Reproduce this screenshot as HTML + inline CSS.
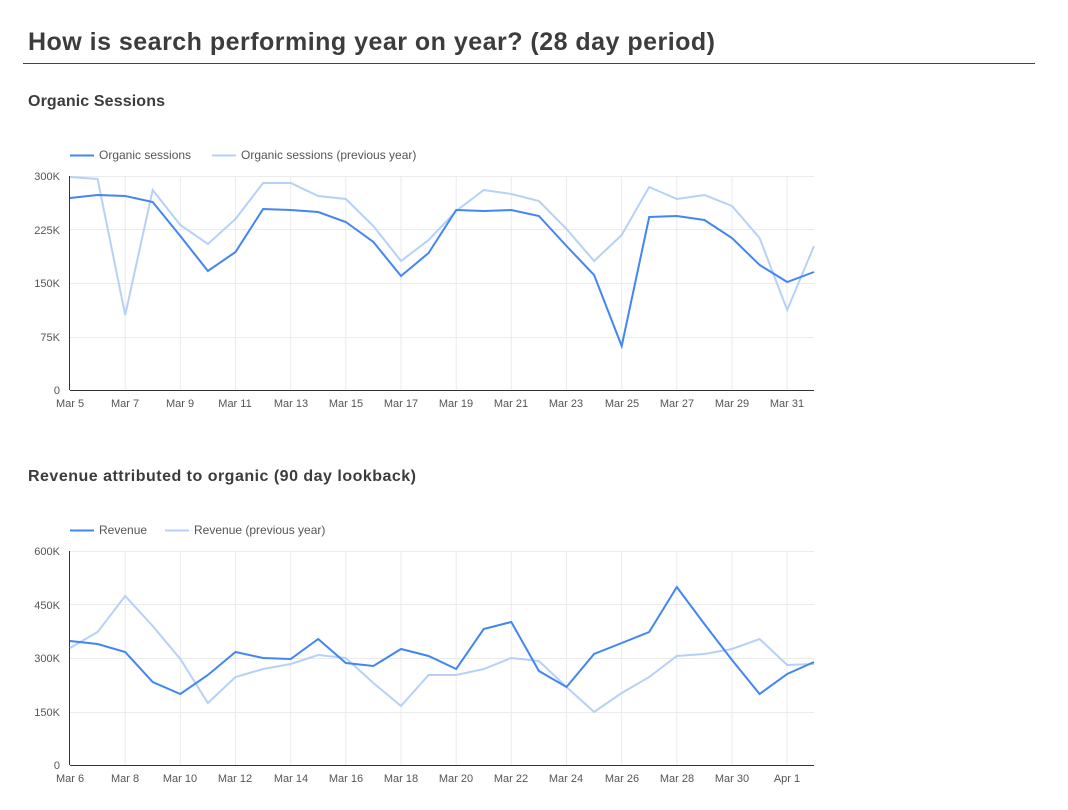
<!DOCTYPE html>
<html><head><meta charset="utf-8"><style>
body{margin:0;background:#fff;width:1068px;height:805px;overflow:hidden;font-family:"Liberation Sans",sans-serif;}
svg text{font-family:"Liberation Sans",sans-serif;}
</style></head><body>
<svg width="1068" height="805" xmlns="http://www.w3.org/2000/svg">
<text x="28" y="50" font-size="25" font-weight="bold" fill="#3c3c3c" textLength="687" lengthAdjust="spacing">How is search performing year on year? (28 day period)</text>
<line x1="23" y1="63.5" x2="1035" y2="63.5" stroke="#444" stroke-width="1"/>
<text x="28" y="106" font-size="16" font-weight="bold" fill="#3c3c3c" textLength="137" lengthAdjust="spacing">Organic Sessions</text>
<text x="28" y="481" font-size="16" font-weight="bold" fill="#3c3c3c" textLength="388" lengthAdjust="spacing">Revenue attributed to organic (90 day lookback)</text>

<g id="c1" font-size="11" fill="#555">
<line x1="70" y1="155.5" x2="94" y2="155.5" stroke="#4285f4" stroke-width="2"/>
<text x="99" y="159" font-size="12">Organic sessions</text>
<line x1="212" y1="155.5" x2="236" y2="155.5" stroke="#b6d1f7" stroke-width="2"/>
<text x="241" y="159" font-size="12">Organic sessions (previous year)</text>
<g stroke="#ebebeb" stroke-width="1">
<line x1="70" y1="176.5" x2="814" y2="176.5"/><line x1="70" y1="229.5" x2="814" y2="229.5"/><line x1="70" y1="283.5" x2="814" y2="283.5"/><line x1="70" y1="337.5" x2="814" y2="337.5"/>
</g>
<g stroke="#ebebeb">
<line x1="125.2" y1="176" x2="125.2" y2="390"/><line x1="180.3" y1="176" x2="180.3" y2="390"/><line x1="235.5" y1="176" x2="235.5" y2="390"/><line x1="290.7" y1="176" x2="290.7" y2="390"/><line x1="345.8" y1="176" x2="345.8" y2="390"/><line x1="401" y1="176" x2="401" y2="390"/><line x1="456.2" y1="176" x2="456.2" y2="390"/><line x1="511.3" y1="176" x2="511.3" y2="390"/><line x1="566.5" y1="176" x2="566.5" y2="390"/><line x1="621.7" y1="176" x2="621.7" y2="390"/><line x1="676.8" y1="176" x2="676.8" y2="390"/><line x1="732" y1="176" x2="732" y2="390"/><line x1="787" y1="176" x2="787" y2="390"/>
</g>
<line x1="70" y1="390.5" x2="814" y2="390.5" stroke="#333"/>
<line x1="69.5" y1="176" x2="69.5" y2="390" stroke="#333"/>
<g text-anchor="end"><text x="60" y="180">300K</text><text x="60" y="234">225K</text><text x="60" y="287">150K</text><text x="60" y="341">75K</text><text x="60" y="394">0</text></g>
<g text-anchor="middle"><text x="70" y="407">Mar 5</text><text x="125" y="407">Mar 7</text><text x="180" y="407">Mar 9</text><text x="235" y="407">Mar 11</text><text x="291" y="407">Mar 13</text><text x="346" y="407">Mar 15</text><text x="401" y="407">Mar 17</text><text x="456" y="407">Mar 19</text><text x="511" y="407">Mar 21</text><text x="566" y="407">Mar 23</text><text x="622" y="407">Mar 25</text><text x="677" y="407">Mar 27</text><text x="732" y="407">Mar 29</text><text x="787" y="407">Mar 31</text></g>
<polyline fill="none" stroke="#b6d1f7" stroke-width="2" points="70,177 97.6,179 125.2,315 152.7,190 180.3,225 207.9,244 235.5,219 263.1,183 290.7,183 318.2,196 345.8,199 373.4,226 401,261 428.6,240 456.2,211 483.7,190 511.3,194 538.9,201 566.5,229 594.1,261 621.7,235 649.2,187 676.8,199 704.4,195 732,206 759.6,238 787.2,310 814,246"/>
<polyline fill="none" stroke="#4285f4" stroke-width="2" points="70,198 97.6,195 125.2,196 152.7,202 180.3,236 207.9,271 235.5,252 263.1,209 290.7,210 318.2,212 345.8,222 373.4,242 401,276 428.6,253 456.2,210 483.7,211 511.3,210 538.9,216 566.5,246 594.1,275 621.7,346 649.2,217 676.8,216 704.4,220 732,238 759.6,265 787.2,282 814,272"/>
</g>

<g id="c2" font-size="11" fill="#555">
<line x1="70" y1="530.5" x2="94" y2="530.5" stroke="#4285f4" stroke-width="2"/>
<text x="99" y="534" font-size="12">Revenue</text>
<line x1="165" y1="530.5" x2="189" y2="530.5" stroke="#b6d1f7" stroke-width="2"/>
<text x="194" y="534" font-size="12">Revenue (previous year)</text>
<g stroke="#ebebeb">
<line x1="70" y1="551.5" x2="814" y2="551.5"/><line x1="70" y1="604.5" x2="814" y2="604.5"/><line x1="70" y1="658.5" x2="814" y2="658.5"/><line x1="70" y1="712.5" x2="814" y2="712.5"/>
<line x1="125.2" y1="551" x2="125.2" y2="765"/><line x1="180.3" y1="551" x2="180.3" y2="765"/><line x1="235.5" y1="551" x2="235.5" y2="765"/><line x1="290.7" y1="551" x2="290.7" y2="765"/><line x1="345.8" y1="551" x2="345.8" y2="765"/><line x1="401" y1="551" x2="401" y2="765"/><line x1="456.2" y1="551" x2="456.2" y2="765"/><line x1="511.3" y1="551" x2="511.3" y2="765"/><line x1="566.5" y1="551" x2="566.5" y2="765"/><line x1="621.7" y1="551" x2="621.7" y2="765"/><line x1="676.8" y1="551" x2="676.8" y2="765"/><line x1="732" y1="551" x2="732" y2="765"/><line x1="787" y1="551" x2="787" y2="765"/>
</g>
<line x1="70" y1="765.5" x2="814" y2="765.5" stroke="#333"/>
<line x1="69.5" y1="551" x2="69.5" y2="765" stroke="#333"/>
<g text-anchor="end"><text x="60" y="555">600K</text><text x="60" y="609">450K</text><text x="60" y="662">300K</text><text x="60" y="716">150K</text><text x="60" y="769">0</text></g>
<g text-anchor="middle"><text x="70" y="782">Mar 6</text><text x="125" y="782">Mar 8</text><text x="180" y="782">Mar 10</text><text x="235" y="782">Mar 12</text><text x="291" y="782">Mar 14</text><text x="346" y="782">Mar 16</text><text x="401" y="782">Mar 18</text><text x="456" y="782">Mar 20</text><text x="511" y="782">Mar 22</text><text x="566" y="782">Mar 24</text><text x="622" y="782">Mar 26</text><text x="677" y="782">Mar 28</text><text x="732" y="782">Mar 30</text><text x="787" y="782">Apr 1</text></g>
<polyline fill="none" stroke="#b6d1f7" stroke-width="2" points="70,648 97.6,632 125.2,596 152.7,626 180.3,659 207.9,703 235.5,677 263.1,669 290.7,664 318.2,655 345.8,658 373.4,683 401,706 428.6,675 456.2,675 483.7,669 511.3,658 538.9,661 566.5,687 594.1,712 621.7,693 649.2,677 676.8,656 704.4,654 732,649 759.6,639 787.2,665 814,664"/>
<polyline fill="none" stroke="#4285f4" stroke-width="2" points="70,641 97.6,644 125.2,652 152.7,682 180.3,694 207.9,675 235.5,652 263.1,658 290.7,659 318.2,639 345.8,663 373.4,666 401,649 428.6,656 456.2,669 483.7,629 511.3,622 538.9,671 566.5,687 594.1,654 621.7,643 649.2,632 676.8,587 704.4,624 732,660 759.6,694 787.2,674 814,662"/>
</g>
</svg>
</body></html>
